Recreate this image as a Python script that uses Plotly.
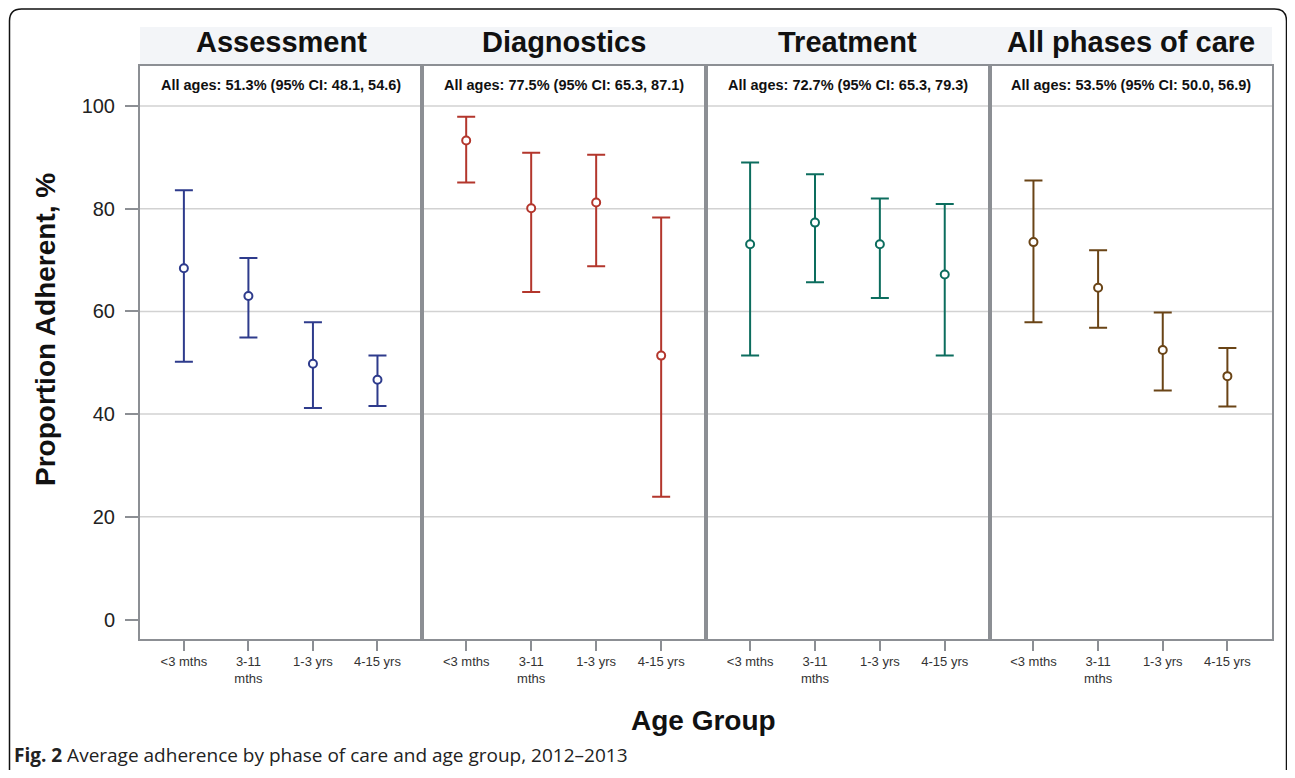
import plotly.graph_objects as go

# ---------------- data ----------------
CATEGORIES = ["<3 mths", "3-11 mths", "1-3 yrs", "4-15 yrs"]
TICK_TEXT = ["<3 mths", "3-11<br>mths", "1-3 yrs", "4-15 yrs"]
PHASES = ["Assessment", "Diagnostics", "Treatment", "All phases of care"]
ALL_AGES = [
    "All ages: 51.3% (95% CI: 48.1, 54.6)",
    "All ages: 77.5% (95% CI: 65.3, 87.1)",
    "All ages: 72.7% (95% CI: 65.3, 79.3)",
    "All ages: 53.5% (95% CI: 50.0, 56.9)",
]

assessment_mean = [68.4, 63.0, 49.8, 46.7]
assessment_low = [50.2, 54.9, 41.2, 41.6]
assessment_high = [83.6, 70.4, 57.9, 51.4]

diagnostics_mean = [93.3, 80.1, 81.2, 51.4]
diagnostics_low = [85.1, 63.8, 68.8, 23.9]
diagnostics_high = [97.9, 90.9, 90.5, 78.3]

treatment_mean = [73.1, 77.3, 73.1, 67.2]
treatment_low = [51.4, 65.7, 62.6, 51.4]
treatment_high = [89.0, 86.7, 82.0, 80.9]

allphases_mean = [73.5, 64.6, 52.5, 47.4]
allphases_low = [57.9, 56.8, 44.6, 41.5]
allphases_high = [85.5, 71.9, 59.8, 52.9]

Y_TICKS = [0, 20, 40, 60, 80, 100]
GRID_VALUES = [20, 40, 60, 80, 100]

COLORS = ["#2E3B8C", "#B3362C", "#0C6D5E", "#6A4416"]

series = [
    (assessment_mean, assessment_low, assessment_high),
    (diagnostics_mean, diagnostics_low, diagnostics_high),
    (treatment_mean, treatment_low, treatment_high),
    (allphases_mean, allphases_low, allphases_high),
]

# ---------------- layout geometry (page pixels) ----------------
# the page body has an 8px margin, so the figure starts at (8, 8)
OFF = 8
W, H = 1295 - 2 * OFF, 778 - 2 * OFF
def px(x):
    return (x - OFF) / W
def py(y):
    return 1 - (y - OFF) / H

panel_edges = [140, 422, 706, 989.5, 1272]
y_top_px, y_bot_px = 66, 638.5

AXIS_COLOR = "#8C8F94"
GRID_COLOR = "#D2D2D2"
FONT = "Liberation Sans, Arial, sans-serif"

fig = go.Figure()

for i, (mean, low, high) in enumerate(series):
    xa = "x" if i == 0 else f"x{i+1}"
    ya = "y" if i == 0 else f"y{i+1}"
    fig.add_trace(go.Scatter(
        x=CATEGORIES, y=mean, xaxis=xa, yaxis=ya, mode="markers",
        marker=dict(symbol="circle", size=8, color="white",
                    line=dict(color=COLORS[i], width=2)),
        error_y=dict(type="data", symmetric=False,
                     array=[h - m for h, m in zip(high, mean)],
                     arrayminus=[m - l for m, l in zip(mean, low)],
                     color=COLORS[i], thickness=2, width=9),
        showlegend=False, hoverinfo="x+y",
    ))

layout = dict(
    width=W, height=H,
    margin=dict(l=0, r=0, t=0, b=0),
    paper_bgcolor="white", plot_bgcolor="white",
    font=dict(family=FONT, color="#111"),
    showlegend=False,
)

for i in range(4):
    xkey = "xaxis" if i == 0 else f"xaxis{i+1}"
    ykey = "yaxis" if i == 0 else f"yaxis{i+1}"
    yref = "y" if i == 0 else f"y{i+1}"
    xref = "x" if i == 0 else f"x{i+1}"
    layout[xkey] = dict(
        domain=[px(panel_edges[i]), px(panel_edges[i + 1])],
        anchor=yref, type="category",
        categoryorder="array", categoryarray=CATEGORIES,
        tickmode="array", tickvals=CATEGORIES, ticktext=TICK_TEXT,
        range=[-0.68, 3.69], showgrid=False, zeroline=False,
        showline=True, mirror=True, linecolor=AXIS_COLOR, linewidth=2,
        ticks="outside", ticklen=10, tickwidth=1.5, tickcolor=AXIS_COLOR,
        tickfont=dict(size=13, color="#333", family=FONT),
        fixedrange=True,
    )
    layout[ykey] = dict(
        domain=[py(y_bot_px), py(y_top_px)],
        anchor=xref, range=[-3.7, 107.8],
        tickmode="array", tickvals=Y_TICKS,
        showgrid=False, zeroline=False,
        showline=True, mirror=True, linecolor=AXIS_COLOR, linewidth=2,
        showticklabels=(i == 0),
        ticks="outside" if i == 0 else "",
        ticklen=13, tickwidth=1.5, tickcolor=AXIS_COLOR,
        tickfont=dict(size=20, color="#222", family=FONT),
        ticklabelstandoff=6,
        fixedrange=True,
    )

fig.update_layout(**layout)

shapes = []
# header band
shapes.append(dict(type="rect", xref="paper", yref="paper",
                   x0=px(140), x1=px(1272), y0=py(66), y1=py(27),
                   fillcolor="#F3F5F8", line=dict(width=0), layer="below"))
# gridlines
for i in range(4):
    xr = "x domain" if i == 0 else f"x{i+1} domain"
    yr = "y" if i == 0 else f"y{i+1}"
    for g in GRID_VALUES:
        shapes.append(dict(type="line", xref=xr, yref=yr, x0=0, x1=1, y0=g, y1=g,
                           line=dict(color=GRID_COLOR, width=1.5), layer="below"))
# outer rounded frame
x0, x1, y0, r = 9.5, 1286.5, 9, 12
ybot = 800
path = (f"M {px(x0)},{py(ybot)} L {px(x0)},{py(y0 + r)} "
        f"Q {px(x0)},{py(y0)} {px(x0 + r)},{py(y0)} "
        f"L {px(x1 - r)},{py(y0)} Q {px(x1)},{py(y0)} {px(x1)},{py(y0 + r)} "
        f"L {px(x1)},{py(ybot)}")
shapes.append(dict(type="path", xref="paper", yref="paper", path=path,
                   line=dict(color="#111", width=1.5)))
fig.update_layout(shapes=shapes)

annotations = []
for i in range(4):
    cx = (panel_edges[i] + panel_edges[i + 1]) / 2
    annotations.append(dict(x=px(cx), y=py(42), xref="paper", yref="paper",
                            text=f"<b>{PHASES[i]}</b>", showarrow=False,
                            xanchor="center", yanchor="middle",
                            font=dict(size=29, family=FONT, color="#111")))
    annotations.append(dict(x=px(cx), y=py(85), xref="paper", yref="paper",
                            text=f"<b>{ALL_AGES[i]}</b>", showarrow=False,
                            xanchor="center", yanchor="middle",
                            font=dict(size=14.5, family=FONT, color="#111")))
annotations.append(dict(x=px(45), y=py(330), xref="paper", yref="paper",
                        text="<b>Proportion Adherent, %</b>", textangle=-90,
                        showarrow=False, xanchor="center", yanchor="middle",
                        font=dict(size=28, family=FONT, color="#111")))
annotations.append(dict(x=px(703), y=py(720), xref="paper", yref="paper",
                        text="<b>Age Group</b>", showarrow=False,
                        xanchor="center", yanchor="middle",
                        font=dict(size=28, family=FONT, color="#111")))
annotations.append(dict(x=px(12), y=py(755), xref="paper", yref="paper",
                        text="<b>Fig. 2</b> Average adherence by phase of care and age group, 2012\u20132013",
                        showarrow=False, xanchor="left", yanchor="middle",
                        font=dict(size=19, family="Open Sans, Noto Sans, sans-serif", color="#222")))
fig.update_layout(annotations=annotations)

fig.write_html("out.html")
